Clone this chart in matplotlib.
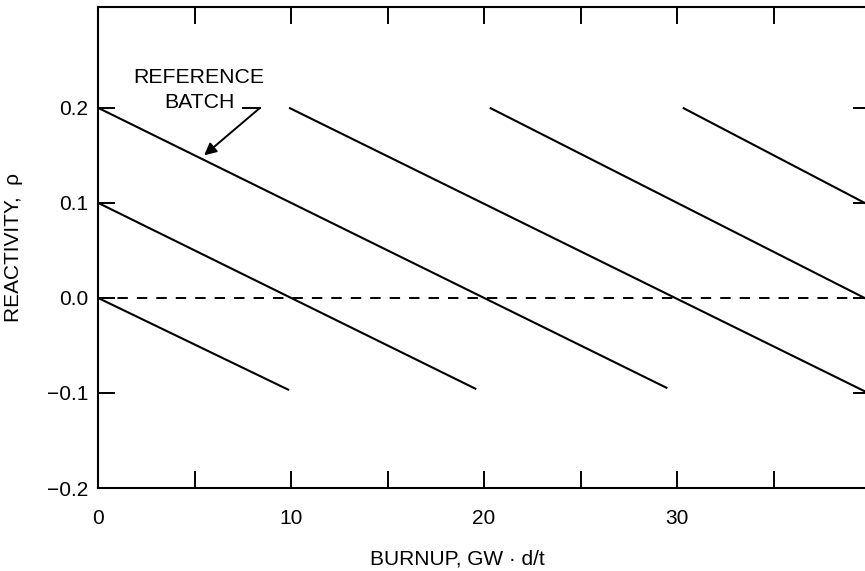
import matplotlib
matplotlib.use("Agg")
import matplotlib.pyplot as plt

plt.rcParams['font.family'] = ['Liberation Sans', 'DejaVu Sans']
plt.rcParams['lines.scale_dashes'] = False

# Data
batch_start_burnup = [0.0, 0.0, 0.0, 9.9, 20.3, 30.3]
batch_start_rho = [0.0, 0.1, 0.2, 0.2, 0.2, 0.2]
batch_end_burnup = [9.9, 19.6, 29.5, 40.0, 40.0, 40.0]
batch_end_rho = [-0.097, -0.096, -0.095, -0.101, -0.003, 0.097]

zero_line_x = [0.0, 40.0]
zero_line_y = [0.0, 0.0]

x_ticks = [0, 5, 10, 15, 20, 25, 30, 35, 40]
x_tick_labels = ["0", "", "10", "", "20", "", "30", "", ""]
y_ticks = [-0.2, -0.1, 0.0, 0.1, 0.2]
y_tick_labels = ["\u22120.2", "\u22120.1", "0.0", "0.1", "0.2"]

fig = plt.figure(figsize=(8.65, 5.71), dpi=100)
ax = fig.add_axes([98/865, 83/571, 772/865, 481/571])

for x0, y0, x1, y1 in zip(batch_start_burnup, batch_start_rho, batch_end_burnup, batch_end_rho):
    ax.plot([x0, x1], [y0, y1], color='black', lw=1.5, solid_capstyle='butt')

ax.plot(zero_line_x, zero_line_y, color='black', lw=1.4, linestyle=(0, (7.5, 6.5)))

ax.set_xlim(0, 40)
ax.set_ylim(-0.2, 0.306)

ax.set_xticks(x_ticks)
ax.set_xticklabels(x_tick_labels)
ax.set_yticks(y_ticks)
ax.set_yticklabels(y_tick_labels)

ax.tick_params(axis='both', which='major', direction='in', length=12, width=1.4,
               top=True, right=True, labelsize=15, colors='black')
ax.tick_params(axis='x', pad=15)
ax.tick_params(axis='y', pad=7)

for sp in ax.spines.values():
    sp.set_linewidth(1.5)

ax.set_xlabel("BURNUP, GW \u00b7 d/t", fontsize=15)
ax.xaxis.set_label_coords(0.4657, -0.128)
ax.set_ylabel("REACTIVITY,  \u03c1", fontsize=15, labelpad=17)

# Annotation
ax.text(5.23, 0.226, "REFERENCE", ha='center', va='baseline', fontsize=15.3)
ax.text(5.23, 0.200, "BATCH", ha='center', va='baseline', fontsize=15.3)
ax.plot([7.5, 8.4], [0.2, 0.2], color='black', lw=1.4)
ax.annotate("", xy=(5.5, 0.150), xytext=(8.4, 0.2),
            arrowprops=dict(arrowstyle='-|>', color='black', lw=1.4,
                            mutation_scale=18, shrinkA=0, shrinkB=0))

fig.savefig("out.png", dpi=100)
